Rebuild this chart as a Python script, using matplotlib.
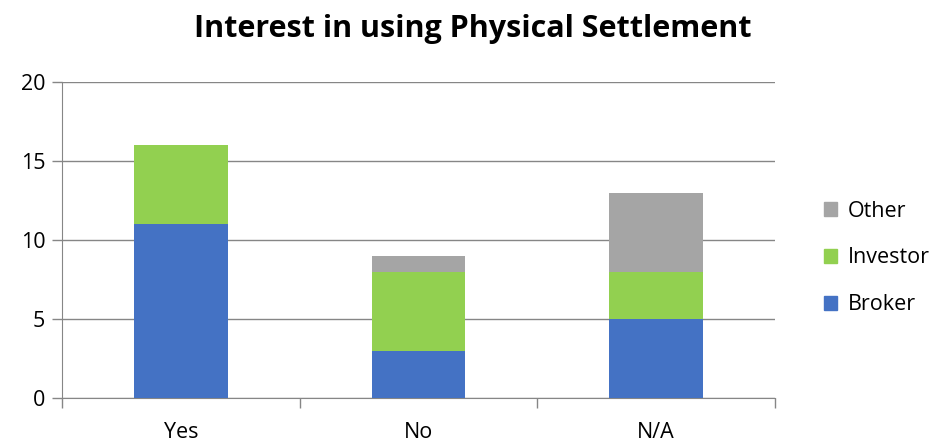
import numpy as np
import matplotlib
matplotlib.use("Agg")
from matplotlib import pyplot as plt
from matplotlib.patches import Patch

categories = ["Yes", "No", "N/A"]
broker = [11, 3, 5]
investor = [5, 5, 3]
other = [0, 1, 5]

C_BROKER = "#4472C4"
C_INVESTOR = "#92D050"
C_OTHER = "#A5A5A5"

plt.rcParams['font.family'] = ['Open Sans', 'DejaVu Sans']

fig = plt.figure(figsize=(9.3, 4.41), dpi=100, facecolor='w')
ax = fig.add_axes([0.0667, 0.0975, 0.7666, 0.7165])

x = np.arange(len(categories))
w = 0.395
b = np.array(broker)
i = np.array(investor)
o = np.array(other)
ax.bar(x, b, w, color=C_BROKER, zorder=3)
ax.bar(x, i, w, bottom=b, color=C_INVESTOR, zorder=3)
ax.bar(x, o, w, bottom=b + i, color=C_OTHER, zorder=3)

ax.set_xlim(-0.5, 2.5)
ax.set_ylim(0, 20)
ax.set_yticks([0, 5, 10, 15, 20])
ax.yaxis.grid(True, color='#868686', lw=1, zorder=0)
ax.set_xticks(x)
ax.set_xticklabels(categories, fontsize=15.5)
ax.tick_params(axis='x', length=0, pad=17)
ax.set_xticks([-0.5, 0.5, 1.5, 2.5], minor=True)
ax.tick_params(axis='x', which='minor', length=7, color='#868686', width=1)
ax.tick_params(axis='y', labelsize=15.5, length=7, color='#868686', width=1, pad=5)
for s in ['top', 'right']:
    ax.spines[s].set_visible(False)
for s in ['left', 'bottom']:
    ax.spines[s].set_color('#868686')

fig.suptitle("Interest in using Physical Settlement", fontsize=22, fontweight='bold',
             x=0.508, y=0.968)

handles = [Patch(color=C_OTHER, label="Other"),
           Patch(color=C_INVESTOR, label="Investor"),
           Patch(color=C_BROKER, label="Broker")]
fig.legend(handles=handles, loc='center left', bbox_to_anchor=(0.865, 0.415),
           frameon=False, fontsize=15.5, handlelength=0.6, handleheight=0.6,
           handletextpad=0.5, labelspacing=1.2)

fig.savefig("out.png", dpi=100)
